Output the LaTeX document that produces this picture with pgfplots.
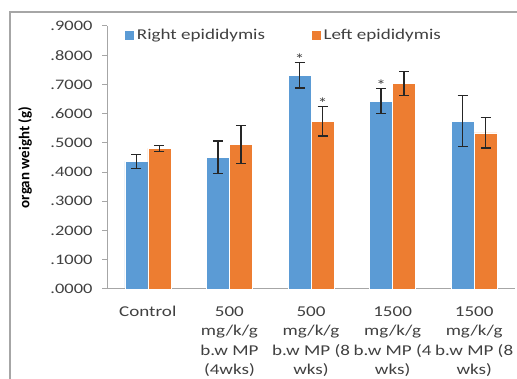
\documentclass[border=0pt]{standalone}
\usepackage{pgfplots}
\pgfplotsset{compat=1.18}
\usepackage{fontspec}
\setmainfont[FakeStretch=1.27]{Carlito}
\newfontfamily\ylabfont{Carlito}
\definecolor{cblue}{HTML}{5B9BD5}
\definecolor{corange}{HTML}{ED7D31}
\definecolor{axgray}{HTML}{A6A6A6}
\definecolor{txt}{HTML}{404040}
\begin{document}
\begin{tikzpicture}[x=1pt,y=1pt]
\path[use as bounding box] (0,0) rectangle (517,379);
\draw[axgray, line width=1.5pt] (10,0) -- (10,367) -- (517,367);
\begin{axis}[
  at={(107pt,90pt)}, anchor=south west,
  scale only axis, width=408pt, height=263pt,
  ybar=0pt, bar width=23pt,
  xmin=0.5, xmax=5.5, ymin=0, ymax=0.9,
  axis x line*=bottom, axis y line*=left,
  axis line style={axgray, line width=1pt, -},
  xtick={1,2,3,4,5},
  xticklabels={Control,{500\\mg/k/g\\b.w MP\\(4wks)},{500\\mg/k/g\\b.w MP (8\\wks)},{1500\\mg/k/g\\b.w MP (4\\wks)},{1500\\mg/k/g\\b.w MP (8\\wks)}},
  xtick style={draw=none},
  minor xtick={0.5,1.5,2.5,3.5,4.5,5.5},
  minor tick style={axgray, line width=1pt},
  tick align=outside, major tick length=5pt, minor tick length=6pt,
  ytick={0,0.1,0.2,0.3,0.4,0.5,0.6,0.7,0.8,0.9},
  yticklabels={.0000,.1000,.2000,.3000,.4000,.5000,.6000,.7000,.8000,.9000},
  ytick style={axgray, line width=1pt},
  yticklabel style={font=\fontsize{14.5}{17}\selectfont, text=txt, xshift=-6pt},
  xticklabel style={align=center, font=\fontsize{15}{19.5}\selectfont, text=txt, yshift=-9pt},
  ylabel={organ weight (g)},
  every axis y label/.style={at={(axis description cs:0,0.5)}, rotate=90, anchor=center, yshift=82pt, font=\ylabfont\bfseries\fontsize{15}{18}\selectfont, text=black},
  legend columns=2,
  legend style={at={(rel axis cs:0.035,0.966)}, anchor=west, draw=none, fill=none,
    font=\fontsize{15}{17}\selectfont, text=txt,
    /tikz/every even column/.append style={column sep=44pt}},
  legend image code/.code={\fill[#1] (0pt,-5pt) rectangle (10pt,5pt);},
  error bars/y dir=both, error bars/y explicit,
  error bars/error bar style={line width=1.3pt, black!85},
  error bars/error mark options={rotate=90, mark size=5pt, line width=1.3pt, black!85},
]
\addplot[fill=cblue, draw=white, line width=0.5pt] coordinates {
  (1,0.437) +- (0,0.024)
  (2,0.451) +- (0,0.055)
  (3,0.731) +- (0,0.043)
  (4,0.643) +- (0,0.043)
  (5,0.574) +- (0,0.087)
};
\addlegendentry{Right epididymis}
\addplot[fill=corange, draw=white, line width=0.5pt] coordinates {
  (1,0.481) +- (0,0.010)
  (2,0.494) +- (0,0.065)
  (3,0.574) +- (0,0.050)
  (4,0.704) +- (0,0.041)
  (5,0.534) +- (0,0.052)
};
\addlegendentry{Left epididymis}
\node[anchor=base, inner sep=0pt, font=\fontsize{15}{15}\selectfont, text=txt, xshift=-11.5pt, yshift=-2pt] at (axis cs:3,0.774) {*};
\node[anchor=base, inner sep=0pt, font=\fontsize{15}{15}\selectfont, text=txt, xshift=11.5pt, yshift=-2pt] at (axis cs:3,0.624) {*};
\node[anchor=base, inner sep=0pt, font=\fontsize{15}{15}\selectfont, text=txt, xshift=-11.5pt, yshift=-2pt] at (axis cs:4,0.686) {*};
\end{axis}
\end{tikzpicture}
\end{document}
